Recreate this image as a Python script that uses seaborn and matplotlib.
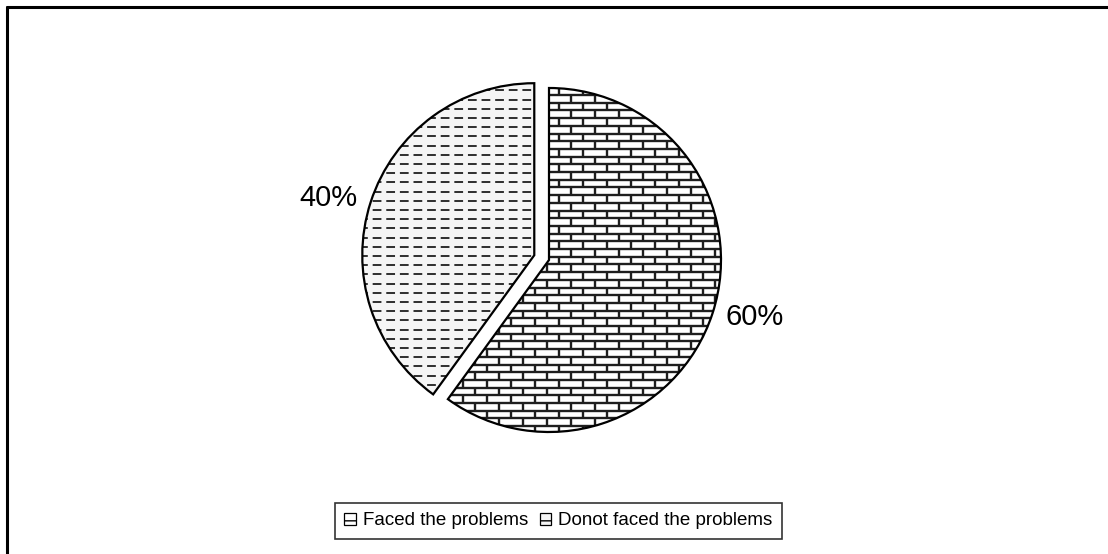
import matplotlib
matplotlib.use("Agg")
import numpy as np
import matplotlib.pyplot as plt
import seaborn as sns
from matplotlib.patches import Wedge, Patch
from matplotlib.collections import LineCollection
from matplotlib.lines import Line2D

categories = ["Faced the problems", "Donot faced the problems"]
shares = [60, 40]
pct_labels = ["60%", "40%"]

sns.set_style("white")
plt.rcParams['font.family'] = ['Liberation Sans', 'DejaVu Sans']
plt.rcParams['text.color'] = 'black'

fig = plt.figure(figsize=(11.08, 5.54), dpi=100)
ax = fig.add_axes([0, 0, 1, 1])

wedges, texts = ax.pie(
    shares, labels=pct_labels, startangle=90, counterclock=False,
    explode=[0, 0.09], labeldistance=1.08,
    colors=["white", "#f5f5f5"],
    wedgeprops=dict(linewidth=0),
    textprops=dict(fontsize=21, color="black"),
)

# 172 px per data unit, pie centre at (549, 260) from top-left
px = 172.0
ax.set_xlim(-549 / px, (1108 - 549) / px)
ax.set_ylim(-(554 - 260) / px, 260 / px)
ax.set_aspect("auto")
ax.axis("off")

# brick pattern for "Faced the problems"
row_h = 7.7 / px
brick_w = 24 / px
segs = []
for i, y0 in enumerate(np.arange(-1.1, 1.1, row_h)):
    segs.append([(-1.2, y0), (1.2, y0)])
    off = (i % 2) * brick_w / 2
    for x in np.arange(-1.2 + off, 1.2, brick_w):
        segs.append([(x, y0), (x, y0 + row_h)])
bricks = LineCollection(segs, colors="#1e1e1e", linewidths=1.7, zorder=2)
ax.add_collection(bricks)
bricks.set_clip_path(wedges[0])

# dashed-line pattern for "Donot faced the problems"
dash_rows = np.arange(-1.1, 1.2, 9.2 / px)
dashes = ax.hlines(dash_rows, -1.5, 0.2, colors="#2e2e2e", linewidths=1.4,
                   linestyles=(0, (4.5, 2.5)), zorder=2)
dashes.set_clip_path(wedges[1])

# outlines on top
for w in wedges:
    ax.add_patch(Wedge(w.center, w.r, w.theta1, w.theta2, fill=False,
                       edgecolor="black", linewidth=1.6, zorder=3))

handles = [Patch(facecolor="white", edgecolor="black", hatch="--|", linewidth=0.9),
           Patch(facecolor="#f5f5f5", edgecolor="black", hatch="--", linewidth=0.9)]
leg = fig.legend(handles, categories, loc="center", bbox_to_anchor=(0.504, 0.060),
                 ncol=2, fontsize=13.5, frameon=True, fancybox=False,
                 edgecolor="black", labelcolor="black",
                 handlelength=0.6, handleheight=0.6,
                 handletextpad=0.4, columnspacing=0.6, borderpad=0.5,
                 borderaxespad=0)
leg.get_frame().set_linewidth(1.2)

# frame lines (top and left)
fig.add_artist(Line2D([7 / 1108, 1.0], [1 - 7 / 554, 1 - 7 / 554],
                      transform=fig.transFigure, color="black", linewidth=2.2))
fig.add_artist(Line2D([7 / 1108, 7 / 1108], [0.0, 1 - 7 / 554],
                      transform=fig.transFigure, color="black", linewidth=2.2))

fig.savefig("out.png", dpi=100)
